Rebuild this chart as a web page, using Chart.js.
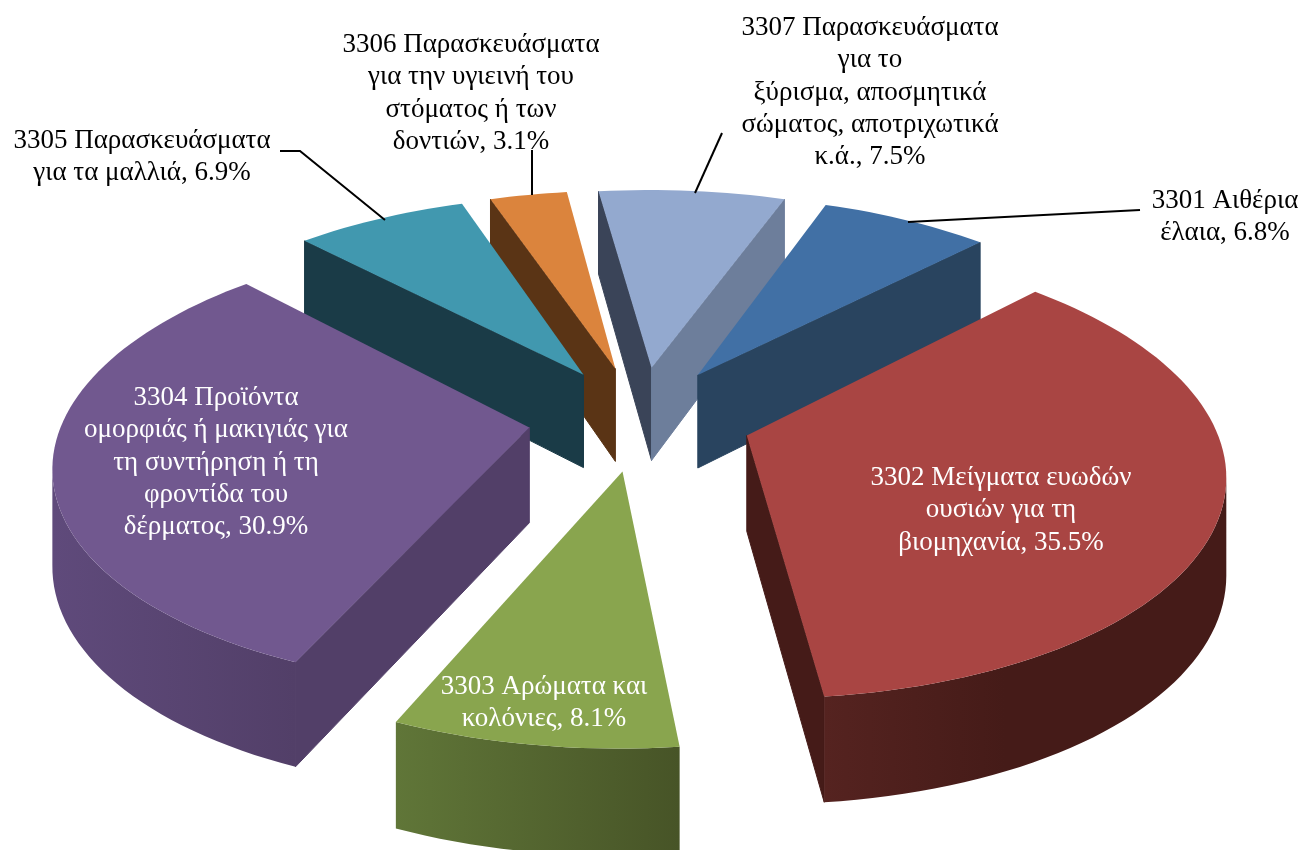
<!DOCTYPE html>
<html><head><meta charset="utf-8">
<style>html,body{margin:0;padding:0;background:#fff}canvas{display:block}</style>
<script src="https://cdn.jsdelivr.net/npm/chart.js@4"></script></head>
<body><canvas id="c" width="1303" height="850"></canvas>
<script>
const categories = ["3301 Αιθέρια έλαια","3302 Μείγματα ευωδών ουσιών για τη βιομηχανία","3303 Αρώματα και κολόνιες","3304 Προϊόντα ομορφιάς ή μακιγιάς για τη συντήρηση ή τη φροντίδα του δέρματος","3305 Παρασκευάσματα για τα μαλλιά","3306 Παρασκευάσματα για την υγιεινή του στόματος ή των δοντιών","3307 Παρασκευάσματα για το ξύρισμα, αποσμητικά σώματος, αποτριχωτικά κ.ά."];
const shares = [6.8,35.5,8.1,30.9,6.9,3.1,7.5];
const topColors = ["#4170a5","#a94543","#89a54e","#71588f","#4198af","#db843d","#93a9cf"];
const wallColors = ["#29445f","#451b18","#475427","#523f68","#1a3b47","#5a3415","#6d7e9b"];
const startWallColors = ["#29445f","#451b18","#475427","#523f68","#1a3b47","#5a3415","#3a4458"];
const rimLight = ["#2f4e6e","#552320","#607638","#5f4a7b","#1f4654","#6b3e19","#7c8eaf"];
const labelLines = [
 ["3301 Αιθέρια","έλαια, 6.8%"],
 ["3302 Μείγματα ευωδών","ουσιών για τη","βιομηχανία, 35.5%"],
 ["3303 Αρώματα και","κολόνιες, 8.1%"],
 ["3304 Προϊόντα","ομορφιάς ή μακιγιάς για","τη συντήρηση ή τη","φροντίδα του","δέρματος, 30.9%"],
 ["3305 Παρασκευάσματα","για τα μαλλιά, 6.9%"],
 ["3306 Παρασκευάσματα","για την υγιεινή του","στόματος ή των","δοντιών, 3.1%"],
 ["3307 Παρασκευάσματα","για το","ξύρισμα, αποσμητικά","σώματος, αποτριχωτικά","κ.ά., 7.5%"]
];
const labelColors = ["#000","#fff","#fff","#fff","#000","#000","#000"];
const labelAnchors = [[1225,201],[1001,478],[544,687],[216,398],[142,141],[471,45],[870,28]];
const leaders = [[[1140,210],[908,222]],null,null,null,[[280,151],[300,151],[385,220]],[[532,150],[532,195]],[[722,133],[695,193]]];

const V = {cx:640, cy:418, f:3130, g:1465, d:6.72, explode:0.24, hMid:95, hSlope:10};
function proj(X,Y){const s=1/(V.d-Y);return [V.cx+V.f*X*s, V.cy+V.g*Y*s, V.hMid+V.hSlope*Y];}
function outline(a0,a1,ox,oy){
  const pts=[[ox,oy]];const n=Math.max(8,Math.ceil((a1-a0)/0.03));
  for(let i=0;i<=n;i++){const a=a0+(a1-a0)*i/n;pts.push([ox+Math.cos(a),oy+Math.sin(a)]);}
  return pts;
}
function quad(ctx,p,q,fill){
  ctx.beginPath();ctx.moveTo(p[0],p[1]);ctx.lineTo(q[0],q[1]);
  ctx.lineTo(q[0],q[1]+q[2]);ctx.lineTo(p[0],p[1]+p[2]);ctx.closePath();
  ctx.fillStyle=fill;ctx.strokeStyle=fill;ctx.lineWidth=1;ctx.fill();ctx.stroke();
}
const pie3d={id:'pie3d',
 beforeDatasetsDraw(chart){
  const ctx=chart.ctx, meta=chart.getDatasetMeta(0);
  const slices=meta.data.map((el,i)=>{
    const mid=(el.startAngle+el.endAngle)/2, off=V.explode;
    const ox=Math.cos(mid)*off, oy=Math.sin(mid)*off;
    const pts=outline(el.startAngle,el.endAngle,ox,oy).map(p=>proj(p[0],p[1]));
    return {i,pts,depth:Math.sin(mid)*(off+0.6)};
  }).sort((a,b)=>a.depth-b.depth);
  for(const s of slices){
    const P=s.pts,n=P.length;
    if(P[1][0]<P[0][0]) quad(ctx,P[0],P[1],startWallColors[s.i]);
    if(P[0][0]<P[n-1][0]) quad(ctx,P[n-1],P[0],wallColors[s.i]);
    const vis=[];
    for(let k=1;k<n-1;k++){ if(P[k+1][0]<P[k][0]){ if(!vis.length) vis.push(P[k]); vis.push(P[k+1]); } }
    if(vis.length>1){
      const xs=vis.map(p=>p[0]);
      const grad=ctx.createLinearGradient(Math.min(...xs),0,Math.max(...xs),0);
      grad.addColorStop(0,rimLight[s.i]);
      grad.addColorStop(s.i===1?0.45:1,wallColors[s.i]);
      ctx.beginPath();
      vis.forEach((p,k)=>k?ctx.lineTo(p[0],p[1]):ctx.moveTo(p[0],p[1]));
      for(let k=vis.length-1;k>=0;k--) ctx.lineTo(vis[k][0],vis[k][1]+vis[k][2]);
      ctx.closePath();ctx.fillStyle=grad;ctx.fill();
    }
    ctx.beginPath();P.forEach((p,k)=>k?ctx.lineTo(p[0],p[1]):ctx.moveTo(p[0],p[1]));ctx.closePath();
    ctx.fillStyle=topColors[s.i];ctx.fill();
  }
  return false;
 },
 afterDraw(chart){
  const ctx=chart.ctx;
  ctx.save();
  ctx.strokeStyle='#000';ctx.lineWidth=2;
  leaders.forEach(l=>{if(!l)return;ctx.beginPath();l.forEach((p,k)=>k?ctx.lineTo(p[0],p[1]):ctx.moveTo(p[0],p[1]));ctx.stroke();});
  ctx.font='27px "Liberation Serif"';ctx.textAlign='center';ctx.textBaseline='middle';
  labelLines.forEach((lines,i)=>{
    ctx.fillStyle=labelColors[i];
    lines.forEach((t,k)=>ctx.fillText(t,labelAnchors[i][0],labelAnchors[i][1]+k*32.3));
  });
  ctx.restore();
 }
};
new Chart(document.getElementById('c'),{
 type:'pie',
 data:{labels:categories,datasets:[{data:shares,backgroundColor:topColors,borderWidth:0,offset:0}]},
 options:{responsive:false,animation:false,events:[],rotation:19.8,
  plugins:{legend:{display:false},tooltip:{enabled:false},title:{display:false}}},
 plugins:[pie3d]
});
</script></body></html>
